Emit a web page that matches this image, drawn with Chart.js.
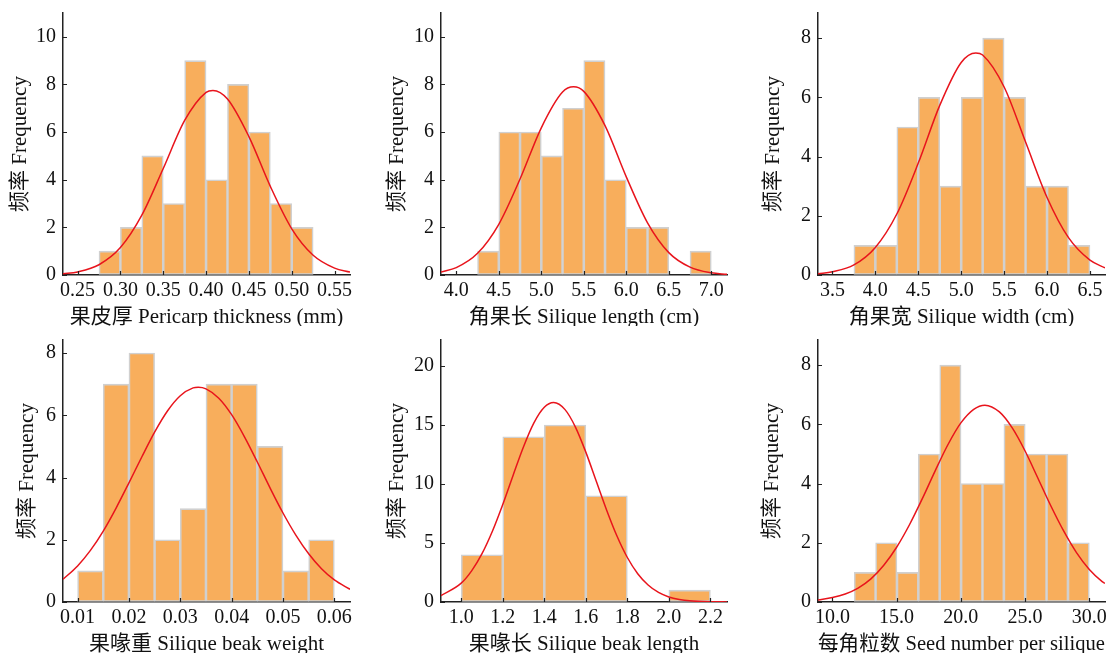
<!DOCTYPE html>
<html>
<head>
<meta charset="utf-8">
<script src="https://cdn.jsdelivr.net/npm/chart.js@4.4.1/dist/chart.umd.min.js"></script>
<style>
  html, body { margin: 0; padding: 0; background: #fff; }
  #wrap { position: relative; width: 1110px; height: 653px; overflow: hidden; }
  .cell { position: absolute; width: 370px; height: 326px; }
</style>
</head>
<body>
<div id="wrap">
  <div class="cell" style="left:0;top:0"><canvas id="c1"></canvas></div>
  <div class="cell" style="left:370px;top:0"><canvas id="c2"></canvas></div>
  <div class="cell" style="left:740px;top:0"><canvas id="c3"></canvas></div>
  <div class="cell" style="left:0;top:327px"><canvas id="c4"></canvas></div>
  <div class="cell" style="left:370px;top:327px"><canvas id="c5"></canvas></div>
  <div class="cell" style="left:740px;top:327px"><canvas id="c6"></canvas></div>
</div>
<script>
// 果皮厚 Pericarp thickness
const periEdges = [0.275, 0.3, 0.325, 0.35, 0.375, 0.4, 0.425, 0.45, 0.475, 0.5, 0.525];
const periCounts = [1, 2, 5, 3, 9, 4, 8, 6, 3, 2];
const periCurveX = [0.233, 0.25, 0.275, 0.3, 0.325, 0.35, 0.375, 0.4, 0.408, 0.425, 0.45, 0.475, 0.5, 0.525, 0.55, 0.568];
const periCurveY = [0.05, 0.13, 0.43, 1.15, 2.51, 4.47, 6.49, 7.67, 7.75, 7.39, 5.81, 3.72, 1.94, 0.83, 0.29, 0.12];
const periTicksX = [0.25, 0.30, 0.35, 0.40, 0.45, 0.50, 0.55];
const periTicksY = [0, 2, 4, 6, 8, 10];

// 角果长 Silique length
const lenEdges = [4.25, 4.5, 4.75, 5.0, 5.25, 5.5, 5.75, 6.0, 6.25, 6.5, 6.75, 7.0];
const lenCounts = [1, 6, 6, 5, 7, 9, 4, 2, 2, 0, 1];
const lenCurveX = [3.82, 4.0, 4.25, 4.5, 4.75, 5.0, 5.25, 5.38, 5.5, 5.75, 6.0, 6.25, 6.5, 6.75, 7.0, 7.185];
const lenCurveY = [0.13, 0.31, 0.91, 2.13, 4.03, 6.18, 7.68, 7.9, 7.71, 6.27, 4.12, 2.19, 0.94, 0.33, 0.09, 0.03];
const lenTicksX = [4.0, 4.5, 5.0, 5.5, 6.0, 6.5, 7.0];
const lenTicksY = [0, 2, 4, 6, 8, 10];

// 角果宽 Silique width
const widEdges = [3.75, 4.0, 4.25, 4.5, 4.75, 5.0, 5.25, 5.5, 5.75, 6.0, 6.25, 6.5];
const widCounts = [1, 1, 5, 6, 3, 6, 8, 6, 3, 3, 1];
const widCurveX = [3.332, 3.5, 3.75, 4.0, 4.25, 4.5, 4.75, 5.0, 5.17, 5.25, 5.5, 5.75, 6.0, 6.25, 6.5, 6.675];
const widCurveY = [0.04, 0.11, 0.34, 0.93, 2.06, 3.78, 5.73, 7.18, 7.5, 7.43, 6.35, 4.49, 2.62, 1.26, 0.50, 0.24];
const widTicksX = [3.5, 4.0, 4.5, 5.0, 5.5, 6.0, 6.5];
const widTicksY = [0, 2, 4, 6, 8];

// 果喙重 Silique beak weight
const bwEdges = [0.01, 0.015, 0.02, 0.025, 0.03, 0.035, 0.04, 0.045, 0.05, 0.055, 0.06];
const bwCounts = [1, 7, 8, 2, 3, 7, 7, 5, 1, 2];
const bwCurveX = [0.00716, 0.01, 0.0125, 0.015, 0.0175, 0.02, 0.0225, 0.025, 0.0275, 0.03, 0.0325, 0.0335, 0.035,
  0.0375, 0.04, 0.0425, 0.045, 0.0475, 0.05, 0.0525, 0.055, 0.0575, 0.06, 0.06305];
const bwCurveY = [0.73, 1.16, 1.66, 2.28, 3.02, 3.83, 4.66, 5.46, 6.14, 6.63, 6.88, 6.9, 6.85,
  6.55, 6.02, 5.31, 4.50, 3.66, 2.86, 2.15, 1.55, 1.07, 0.71, 0.41];
const bwTicksX = [0.01, 0.02, 0.03, 0.04, 0.05, 0.06];
const bwTicksY = [0, 2, 4, 6, 8];

// 果喙长 Silique beak length
const blEdges = [1.0, 1.2, 1.4, 1.6, 1.8, 2.0, 2.2];
const blCounts = [4, 14, 15, 9, 0, 1];
const blCurveX = [0.9025, 1.0, 1.05, 1.1, 1.15, 1.2, 1.25, 1.3, 1.35, 1.4, 1.445, 1.5, 1.55, 1.6, 1.65, 1.7,
  1.75, 1.8, 1.85, 1.9, 1.95, 2.0, 2.05, 2.1, 2.2, 2.28];
const blCurveY = [0.55, 1.6, 2.64, 4.1, 6.0, 8.27, 10.75, 13.16, 15.18, 16.5, 16.9, 16.3, 14.82, 12.7, 10.25, 7.8,
  5.59, 3.77, 2.4, 1.44, 0.81, 0.43, 0.22, 0.1, 0.02, 0.01];
const blTicksX = [1.0, 1.2, 1.4, 1.6, 1.8, 2.0, 2.2];
const blTicksY = [0, 5, 10, 15, 20];

// 每角粒数 Seed number per silique
const seedEdges = [11.70, 13.36, 15.03, 16.69, 18.35, 20.02, 21.68, 23.35, 25.01, 26.67, 28.34, 30.0];
const seedCounts = [1, 2, 1, 5, 8, 4, 4, 6, 5, 5, 2];
const seedCurveX = [8.88, 10, 11, 12, 13, 14, 15, 16, 17, 18, 19, 20, 21, 21.87, 23, 24, 25, 26, 27, 28, 29, 30, 31, 31.22];
const seedCurveY = [0.07, 0.15, 0.27, 0.47, 0.78, 1.24, 1.85, 2.61, 3.49, 4.43, 5.32, 6.05, 6.51, 6.65, 6.42, 5.88,
  5.10, 4.18, 3.25, 2.40, 1.67, 1.10, 0.69, 0.63];
const seedTicksX = [10, 15, 20, 25, 30];
const seedTicksY = [0, 2, 4, 6, 8];

const yTitle = '频率 Frequency';
const FONT = "'Liberation Serif', 'Times New Roman', 'Noto Sans CJK SC', serif";

const panels = [
  { id: 'c1', edges: periEdges, counts: periCounts, cx: periCurveX, cy: periCurveY, tx: periTicksX, ty: periTicksY,
    xmin: 0.233, xmax: 0.568, ymax: 11, dec: 2, title: '果皮厚 Pericarp thickness (mm)', yw: 63, right: 20, tpad: 10 },
  { id: 'c2', edges: lenEdges, counts: lenCounts, cx: lenCurveX, cy: lenCurveY, tx: lenTicksX, ty: lenTicksY,
    xmin: 3.82, xmax: 7.185, ymax: 11, dec: 1, title: '角果长 Silique length (cm)', yw: 71, right: 13, tpad: 17 },
  { id: 'c3', edges: widEdges, counts: widCounts, cx: widCurveX, cy: widCurveY, tx: widTicksX, ty: widTicksY,
    xmin: 3.332, xmax: 6.675, ymax: 8.85, dec: 1, title: '角果宽 Silique width (cm)', yw: 78, right: 5, tpad: 23 },
  { id: 'c4', edges: bwEdges, counts: bwCounts, cx: bwCurveX, cy: bwCurveY, tx: bwTicksX, ty: bwTicksY,
    xmin: 0.00716, xmax: 0.06305, ymax: 8.42, dec: 2, title: '果喙重 Silique beak weight', yw: 63, right: 20, tpad: 17 },
  { id: 'c5', edges: blEdges, counts: blCounts, cx: blCurveX, cy: blCurveY, tx: blTicksX, ty: blTicksY,
    xmin: 0.9025, xmax: 2.28, ymax: 22.2, dec: 1, title: '果喙长 Silique beak length', yw: 71, right: 13, tpad: 17 },
  { id: 'c6', edges: seedEdges, counts: seedCounts, cx: seedCurveX, cy: seedCurveY, tx: seedTicksX, ty: seedTicksY,
    xmin: 8.88, xmax: 31.22, ymax: 8.85, dec: 1, title: '每角粒数 Seed number per silique', yw: 78, right: 5, tpad: 22 }
];

// tick marks pointing into the plot
const inwardTicks = {
  id: 'inwardTicks',
  afterDatasetsDraw(chart) {
    const { ctx, chartArea, scales } = chart;
    ctx.save();
    ctx.strokeStyle = '#222';
    ctx.lineWidth = 1.2;
    ctx.beginPath();
    scales.x.ticks.forEach(t => {
      const px = Math.round(scales.x.getPixelForValue(t.value)) + 0.5;
      ctx.moveTo(px, chartArea.bottom);
      ctx.lineTo(px, chartArea.bottom - 4);
    });
    scales.y.ticks.forEach(t => {
      const py = Math.round(scales.y.getPixelForValue(t.value)) + 0.5;
      ctx.moveTo(chartArea.left, py);
      ctx.lineTo(chartArea.left + 4, py);
    });
    ctx.stroke();
    ctx.restore();
  }
};

Chart.defaults.color = '#111';
Chart.defaults.font.family = FONT;
Chart.defaults.font.size = 20;

panels.forEach(p => {
  const bars = [];
  p.counts.forEach((c, i) => {
    if (c > 0) bars.push({ x: (p.edges[i] + p.edges[i + 1]) / 2, y: c });
  });
  const curve = p.cx.map((x, i) => ({ x: x, y: p.cy[i] }));

  new Chart(document.getElementById(p.id), {
    type: 'bar',
    data: {
      datasets: [
        {
          type: 'line',
          data: curve,
          borderColor: '#e8141c',
          borderWidth: 1.5,
          pointRadius: 0,
          cubicInterpolationMode: 'monotone',
          order: 0
        },
        {
          type: 'bar',
          data: bars,
          backgroundColor: '#f8ae5c',
          borderColor: '#d0d0d0',
          borderWidth: 1.6,
          borderSkipped: false,
          barPercentage: 1,
          categoryPercentage: 1,
          order: 1
        }
      ]
    },
    options: {
      responsive: true,
      maintainAspectRatio: false,
      animation: false,
      layout: { padding: { top: 13, right: p.right, left: 0, bottom: 0 } },
      plugins: { legend: { display: false }, tooltip: { enabled: false } },
      scales: {
        x: {
          type: 'linear',
          min: p.xmin,
          max: p.xmax,
          offset: false,
          afterBuildTicks: s => { s.ticks = p.tx.map(v => ({ value: v })); },
          afterFit: s => { s.height = 51; s.paddingLeft = 0; s.paddingRight = 0; },
          grid: { display: true, drawOnChartArea: false, drawTicks: false },
          border: { display: true, color: '#222', width: 1.5 },
          ticks: {
            padding: 6,
            maxRotation: 0,
            autoSkip: false,
            font: { size: 20, lineHeight: 1 },
            callback: v => Number(v).toFixed(p.dec)
          },
          title: {
            display: true,
            text: p.title,
            font: { size: 21, lineHeight: 1 },
            padding: { top: 0, bottom: -2 }
          }
        },
        y: {
          min: 0,
          max: p.ymax,
          afterBuildTicks: s => { s.ticks = p.ty.map(v => ({ value: v })); },
          afterFit: s => { s.width = p.yw; s.paddingTop = 0; s.paddingBottom = 0; },
          grid: { display: true, drawOnChartArea: false, drawTicks: false },
          border: { display: true, color: '#222', width: 1.5 },
          ticks: {
            padding: 7,
            autoSkip: false,
            font: { size: 20, lineHeight: 1 },
            callback: v => String(v)
          },
          title: {
            display: true,
            text: yTitle,
            font: { size: 21, lineHeight: 1 },
            padding: { top: p.tpad, bottom: 0 }
          }
        }
      }
    },
    plugins: [inwardTicks]
  });
});
</script>
</body>
</html>
